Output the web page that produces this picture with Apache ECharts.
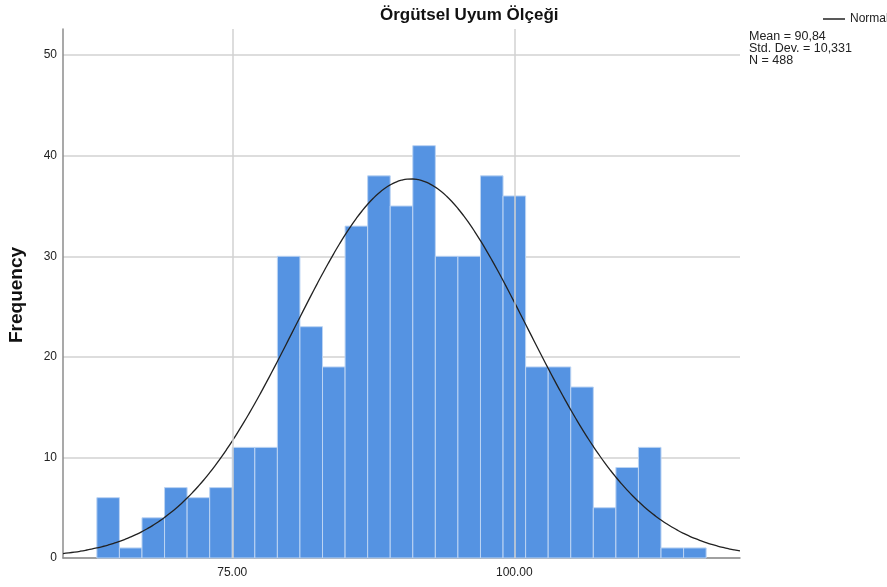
<!DOCTYPE html>
<html>
<head>
<meta charset="utf-8">
<script src="https://cdn.jsdelivr.net/npm/echarts@6/dist/echarts.min.js"></script>
<style>
    html, body { margin:0; padding:0; background:#fff; }
    #chart { width:887px; height:587px; }
</style>
</head>
<body>
<div id="chart"></div>
<script>
// histogram bins (lower edge, width 2) and their frequencies
var binStarts = [63, 65, 67, 69, 71, 73, 75, 77, 79, 81, 83, 85, 87, 89, 91, 93, 95, 97, 99, 101, 103, 105, 107, 109, 111, 113, 115];
var counts    = [6, 1, 4, 7, 6, 7, 11, 11, 30, 23, 19, 33, 38, 35, 41, 30, 30, 38, 36, 19, 19, 17, 5, 9, 11, 1, 1];
var binWidth = 2;
var xTickLabels = [75, 100];
var yTicks = [0, 10, 20, 30, 40, 50];

// summary stats shown in the chart (used for the fitted normal curve)
var mean = 90.84;
var stdDev = 10.331;
var n = 488;

var FONT = 'Liberation Sans, Arial, sans-serif';

var histData = binStarts.map(function (b, i) { return [b, counts[i]]; });

// fitted normal curve scaled to frequency
var curveData = [];
for (var x = 60; x <= 120.001; x += 0.5) {
    var z = (x - mean) / stdDev;
    curveData.push([x, n * binWidth / (stdDev * Math.sqrt(2 * Math.PI)) * Math.exp(-z * z / 2)]);
}

var myChart = echarts.init(document.getElementById('chart'));
myChart.setOption({
    animation: false,
    textStyle: { fontFamily: FONT },
    grid: { left: 63, right: 147, top: 29, bottom: 29 },
    legend: {
        data: [{ name: 'Normal', icon: 'rect' }],
        left: 818, top: 8,
        itemWidth: 22, itemHeight: 1.5, itemGap: 4,
        textStyle: { fontSize: 12, color: '#222', fontFamily: FONT }
    },
    xAxis: {
        type: 'value',
        min: 60, max: 120, interval: 5,
        axisLine: { lineStyle: { color: '#8c8c8c', width: 1.5 } },
        axisTick: { show: false },
        splitLine: { show: false },
        axisLabel: {
            color: '#222', fontSize: 12, margin: 9,
            formatter: function (v) { return xTickLabels.indexOf(v) >= 0 ? v.toFixed(2) : ''; }
        }
    },
    yAxis: {
        type: 'value',
        min: 0, max: 52.6, interval: 10,
        axisLine: { show: true, lineStyle: { color: '#8c8c8c', width: 1.5 } },
        axisTick: { show: false },
        splitLine: { showMaxLine: false, lineStyle: { color: '#d2d2d2', width: 1.5 } },
        axisLabel: {
            color: '#222', fontSize: 12, margin: 6, showMaxLabel: false,
            formatter: function (v) { return yTicks.indexOf(v) >= 0 ? v : ''; }
        }
    },
    graphic: [
        {
            type: 'text', left: 380, top: 7,
            style: { text: 'Örgütsel Uyum Ölçeği', font: 'bold 17px ' + FONT, fill: '#111' }
        },
        {
            type: 'text', x: 17, y: 295, rotation: Math.PI / 2,
            style: { text: 'Frequency', font: 'bold 19px ' + FONT, fill: '#111', align: 'center', verticalAlign: 'middle' }
        },
        {
            type: 'text', left: 749, top: 30,
            style: {
                text: 'Mean = ' + mean.toFixed(2).replace('.', ',') + '\nStd. Dev. = ' + stdDev.toFixed(3).replace('.', ',') + '\nN = ' + n,
                font: '12.5px ' + FONT, fill: '#222', lineHeight: 12
            }
        }
    ],
    series: [
        {
            // vertical reference lines behind the bars
            type: 'line', data: [], z: 0, silent: true,
            markLine: {
                symbol: 'none', silent: true, label: { show: false },
                lineStyle: { color: '#d2d2d2', width: 1.5, type: 'solid' },
                data: xTickLabels.map(function (v) { return { xAxis: v }; })
            }
        },
        {
            name: 'Histogram',
            type: 'custom',
            z: 2,
            data: histData,
            encode: { x: 0, y: 1 },
            renderItem: function (params, api) {
                var p0 = api.coord([api.value(0), 0]);
                var p1 = api.coord([api.value(0) + binWidth, api.value(1)]);
                return {
                    type: 'rect',
                    shape: { x: p0[0], y: p1[1], width: p1[0] - p0[0], height: p0[1] - p1[1] },
                    style: { fill: '#5593e2', stroke: '#bcd4f3', lineWidth: 1 }
                };
            }
        },
        {
            name: 'Normal',
            type: 'line',
            z: 3,
            data: curveData,
            symbol: 'none',
            smooth: true,
            lineStyle: { color: '#222', width: 1.3 },
            itemStyle: { color: '#222' }
        }
    ]
});
</script>
</body>
</html>
